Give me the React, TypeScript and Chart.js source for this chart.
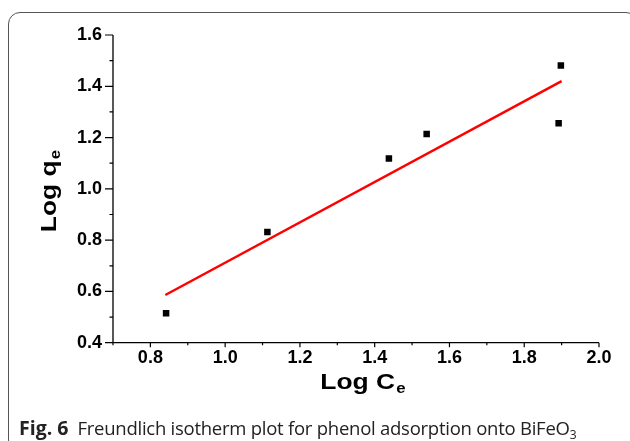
import React, { useEffect, useRef } from "react";
import { Chart, registerables } from "chart.js";

Chart.register(...registerables);

const logCe = [0.842, 1.113, 1.438, 1.539, 1.892, 1.898];
const logQe = [0.515, 0.832, 1.118, 1.214, 1.256, 1.481];
const fitX = [0.84, 1.9];
const fitY = [0.586, 1.42];

const xMajorTicks = [0.8, 1.0, 1.2, 1.4, 1.6, 1.8, 2.0];
const xMinorTicks = [0.7, 0.9, 1.1, 1.3, 1.5, 1.7, 1.9];
const yMajorTicks = [0.4, 0.6, 0.8, 1.0, 1.2, 1.4, 1.6];
const yMinorTicks = [0.5, 0.7, 0.9, 1.1, 1.3, 1.5];

const xTitle = ["Log C", "e"];
const yTitle = ["Log q", "e"];

const STRETCH = 1.2;

function drawTitle(ctx: any, parts: string[]) {
  const mainFont = "bold 22px 'Liberation Sans', Arial, sans-serif";
  const subFont = "bold 14px 'Liberation Sans', Arial, sans-serif";
  ctx.font = mainFont;
  const w = ctx.measureText(parts[0]).width;
  ctx.font = subFont;
  const ws = ctx.measureText(parts[1]).width;
  const s = -(w + ws + 1) / 2;
  ctx.textBaseline = "alphabetic";
  ctx.textAlign = "left";
  ctx.font = mainFont;
  ctx.fillText(parts[0], s, 0);
  ctx.font = subFont;
  ctx.fillText(parts[1], s + w + 1, 4);
}

const axisPlugin = {
  id: "axisPlugin",
  afterDraw(chart: any) {
    const ctx = chart.ctx;
    const xs = chart.scales.x;
    const ys = chart.scales.y;
    const ca = chart.chartArea;
    ctx.save();
    ctx.strokeStyle = "#000";
    ctx.lineWidth = 1.3;
    ctx.beginPath();
    ctx.moveTo(ca.left, ca.top);
    ctx.lineTo(ca.left, ca.bottom);
    ctx.lineTo(ca.right, ca.bottom);
    ctx.stroke();
    ctx.lineWidth = 1.2;
    ctx.beginPath();
    yMajorTicks.forEach((v) => {
      const p = ys.getPixelForValue(v);
      ctx.moveTo(ca.left - 8, p);
      ctx.lineTo(ca.left, p);
    });
    yMinorTicks.forEach((v) => {
      const p = ys.getPixelForValue(v);
      ctx.moveTo(ca.left - 3.5, p);
      ctx.lineTo(ca.left, p);
    });
    xMajorTicks.forEach((v) => {
      const p = xs.getPixelForValue(v);
      ctx.moveTo(p, ca.bottom);
      ctx.lineTo(p, ca.bottom + 4.5);
    });
    xMinorTicks.forEach((v) => {
      const p = xs.getPixelForValue(v);
      ctx.moveTo(p, ca.bottom);
      ctx.lineTo(p, ca.bottom + 2.5);
    });
    ctx.stroke();

    ctx.fillStyle = "#000";
    ctx.save();
    ctx.translate((ca.left + ca.right) / 2 + 7, 389);
    ctx.scale(STRETCH, 1);
    drawTitle(ctx, xTitle);
    ctx.restore();
    ctx.save();
    ctx.translate(56, 191);
    ctx.rotate(-Math.PI / 2);
    ctx.scale(STRETCH, 1);
    drawTitle(ctx, yTitle);
    ctx.restore();
    ctx.restore();
  },
};

export default function App() {
  const ref = useRef<HTMLCanvasElement | null>(null);
  useEffect(() => {
    if (!ref.current) return;
    const tickFont = { family: "'Liberation Sans', Arial, sans-serif", size: 18, weight: "bold" as const };
    const chart = new Chart(ref.current, {
      type: "scatter",
      data: {
        datasets: [
          {
            type: "line",
            data: fitX.map((x, i) => ({ x, y: fitY[i] })),
            borderColor: "#ff0000",
            borderWidth: 2.5,
            pointRadius: 0,
            fill: false,
          } as any,
          {
            type: "scatter",
            data: logCe.map((x, i) => ({ x, y: logQe[i] })),
            backgroundColor: "#000",
            borderColor: "#000",
            pointStyle: "rect",
            pointRadius: 4.6,
            borderWidth: 0,
          },
        ],
      },
      options: {
        animation: false,
        responsive: false,
        maintainAspectRatio: false,
        layout: { padding: { left: 0, top: 35, right: 31, bottom: 0 } },
        plugins: { legend: { display: false }, tooltip: { enabled: false } },
        scales: {
          x: {
            type: "linear",
            min: 0.7,
            max: 2.0,
            afterFit: (s: any) => {
              s.height = 98.3;
            },
            afterBuildTicks: (s: any) => {
              s.ticks = xMajorTicks.map((v) => ({ value: v }));
            },
            grid: { display: false, drawTicks: false },
            border: { display: false },
            ticks: {
              padding: 5,
              color: "#000",
              font: tickFont,
              callback: (v: any) => Number(v).toFixed(1),
            },
          },
          y: {
            type: "linear",
            min: 0.4,
            max: 1.6,
            afterFit: (s: any) => {
              s.width = 113;
            },
            afterBuildTicks: (s: any) => {
              s.ticks = yMajorTicks.map((v) => ({ value: v }));
            },
            grid: { display: false, drawTicks: false },
            border: { display: false },
            ticks: {
              padding: 11,
              color: "#000",
              font: tickFont,
              callback: (v: any) => Number(v).toFixed(1),
            },
          },
        },
      },
      plugins: [axisPlugin],
    });
    return () => chart.destroy();
  }, []);

  return (
    <div style={{ position: "fixed", left: 0, top: 0, width: 630, height: 441, background: "#fff", overflow: "hidden" }}>
      <div
        style={{
          position: "absolute",
          left: 8,
          top: 12,
          width: 630,
          height: 440,
          border: "1px solid #555",
          borderRadius: 12,
          boxSizing: "border-box",
        }}
      />
      <canvas ref={ref} width={630} height={441} style={{ position: "absolute", left: 0, top: 0 }} />
      <div
        style={{
          position: "absolute",
          left: 19,
          top: 416,
          whiteSpace: "nowrap",
          fontFamily: "'Open Sans', sans-serif",
          fontSize: 18.5,
          color: "#222",
          lineHeight: "24px",
        }}
      >
        <span style={{ fontWeight: 700, fontSize: 19.5 }}>Fig. 6</span>
        <span style={{ letterSpacing: "-0.25px" }}>{"\u2002"}Freundlich isotherm plot for phenol adsorption onto BiFeO</span>
        <sub style={{ fontSize: 12, verticalAlign: "-4px", lineHeight: 0 }}>3</sub>
      </div>
    </div>
  );
}
